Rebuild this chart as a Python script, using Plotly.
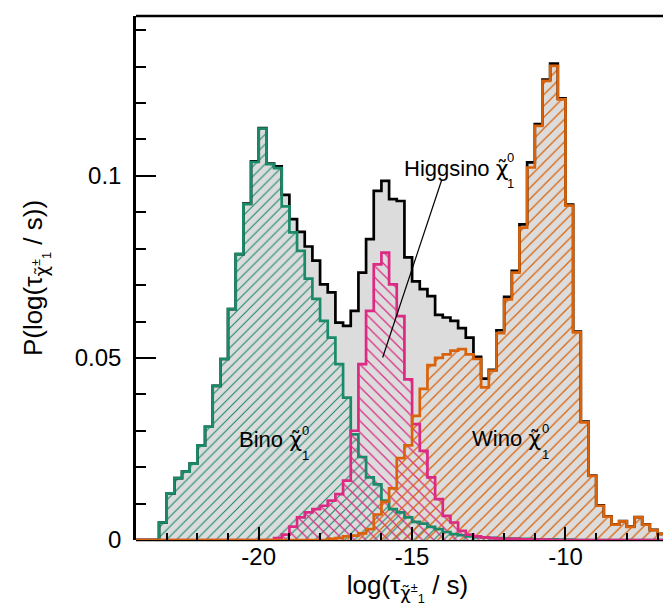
import plotly.graph_objects as go

# ---------------- data (bin left edges: -24, -23.75, ..., -6.5; width 0.25) ----------------
BIN_START = -24.0
BIN_WIDTH = 0.25

total = [0, 0, 0, 0.0048, 0.0128, 0.0170, 0.0188, 0.0210, 0.0259, 0.0311,
         0.0423, 0.0497, 0.0634, 0.0785, 0.0924, 0.1040, 0.1131, 0.1034, 0.1026, 0.0948,
         0.0881, 0.0846, 0.0806, 0.0767, 0.0702, 0.0680, 0.0597, 0.0588, 0.0629, 0.0734,
         0.0826, 0.0959, 0.0986, 0.0936, 0.0931, 0.0776, 0.0710, 0.0689, 0.0670, 0.0618,
         0.0611, 0.0602, 0.0582, 0.0556, 0.0503, 0.0443, 0.0467, 0.0576, 0.0668, 0.0739,
         0.0867, 0.1037, 0.1142, 0.1264, 0.1308, 0.1213, 0.0921, 0.0572, 0.0325, 0.0177,
         0.0095, 0.0065, 0.0043, 0.0052, 0.0037, 0.0063, 0.0043, 0.0028, 0.0017, 0.0011,
         0.0008]

bino = [0, 0, 0, 0.0048, 0.0128, 0.0170, 0.0188, 0.0210, 0.0259, 0.0311,
        0.0423, 0.0497, 0.0634, 0.0785, 0.0922, 0.1038, 0.1130, 0.1032, 0.1021, 0.0916,
        0.0845, 0.0794, 0.0718, 0.0662, 0.0602, 0.0556, 0.0483, 0.0391, 0.0290, 0.0228,
        0.0172, 0.0153, 0.0108, 0.0085, 0.0076, 0.0062, 0.0050, 0.0045, 0.0036, 0.0030,
        0.0022, 0.0016, 0.0013, 0.0010, 0.0008, 0.0007, 0.0006, 0.0005, 0.0004, 0.0004,
        0.0003, 0.0003, 0.0002, 0.0002, 0.0002, 0.0001, 0.0001, 0, 0, 0,
        0, 0, 0, 0, 0, 0, 0, 0, 0, 0,
        0]

higgsino = [0, 0, 0, 0, 0, 0, 0, 0, 0, 0,
            0, 0, 0, 0, 0, 0, 0, 0, 0.0005, 0.0015,
            0.0037, 0.0062, 0.0076, 0.0085, 0.0094, 0.0108, 0.0126, 0.0163, 0.0300, 0.0483,
            0.0629, 0.0757, 0.0789, 0.0702, 0.0615, 0.0441, 0.0318, 0.0245, 0.0172, 0.0112,
            0.0066, 0.0048, 0.0025, 0.0015, 0.0010, 0.0007, 0.0005, 0.0004, 0.0003, 0.0003,
            0.0002, 0.0002, 0.0001, 0.0001, 0, 0, 0, 0, 0, 0,
            0, 0, 0, 0, 0, 0, 0, 0, 0, 0,
            0]

wino = [0, 0, 0, 0, 0, 0, 0, 0, 0, 0,
        0, 0, 0, 0, 0, 0, 0, 0, 0, 0,
        0, 0, 0, 0, 0, 0.0003, 0.0005, 0.0010, 0.0012, 0.0018,
        0.0030, 0.0070, 0.0105, 0.0142, 0.0225, 0.0260, 0.0341, 0.0415, 0.0480, 0.0500,
        0.0510, 0.0520, 0.0524, 0.0510, 0.0497, 0.0419, 0.0465, 0.0568, 0.0661, 0.0734,
        0.0858, 0.1023, 0.1137, 0.1261, 0.1302, 0.1210, 0.0918, 0.0570, 0.0323, 0.0176,
        0.0094, 0.0064, 0.0042, 0.0051, 0.0036, 0.0062, 0.0042, 0.0027, 0.0016, 0.0010,
        0.0007]

x_tickvals = [-20, -15, -10]
x_ticktext = ["-20", "-15", "-10"]
y_tickvals = [0, 0.05, 0.1]
y_ticktext = ["0", "0.05", "0.1"]

# ---------------- styling ----------------
GRAY = "#dcdcdc"
GREEN = "#1b8a6b"
PINK = "#dc2a84"
ORANGE = "#d9630a"
FONT = "Liberation Sans, Arial, Helvetica, sans-serif"
CHI = "<span style='font-family:DejaVu Sans'>χ̃</span>"

n = len(total)
edges = [BIN_START + BIN_WIDTH * i for i in range(n + 1)]


def step_y(vals):
    return list(vals) + [vals[-1]]


fig = go.Figure()

# gray total area
fig.add_trace(go.Scatter(x=edges, y=step_y(total), mode="lines",
                         line=dict(shape="hv", width=0, color=GRAY),
                         fill="tozeroy", fillcolor=GRAY, hoverinfo="skip"))

# hatched component areas
for vals, col, shp, size in [(bino, GREEN, "/", 7), (higgsino, PINK, "\\", 8), (wino, ORANGE, "/", 8)]:
    fig.add_trace(go.Scatter(x=edges, y=step_y(vals), mode="lines",
                             line=dict(shape="hv", width=0, color=col),
                             fill="tozeroy", fillcolor="rgba(0,0,0,0)",
                             fillpattern=dict(shape=shp, fgcolor=col, bgcolor="rgba(0,0,0,0)",
                                              size=size, solidity=0.16, fgopacity=1),
                             hoverinfo="skip"))

# step outlines
for vals, col in [(total, "black"), (bino, GREEN), (higgsino, PINK), (wino, ORANGE)]:
    fig.add_trace(go.Scatter(x=edges, y=step_y(vals), mode="lines",
                             line=dict(shape="hv", width=2.7, color=col), hoverinfo="skip"))

chi_sub = CHI + "<sup>±</sup><sub>1</sub>"
fig.update_layout(
    width=671, height=608,
    margin=dict(l=128, r=0, t=8, b=76),
    paper_bgcolor="white", plot_bgcolor="white",
    showlegend=False,
    font=dict(family=FONT, size=22, color="black"),
)

fig.update_xaxes(
    range=[-24, -6.3], showline=False, showgrid=False, zeroline=False,
    ticks="inside", ticklen=13, tickwidth=2, tickcolor="black",
    tickmode="array", tickvals=x_tickvals, ticktext=x_ticktext,
    tickfont=dict(size=24),
    minor=dict(ticks="inside", ticklen=7, tickwidth=2, tickcolor="black",
               tickmode="linear", tick0=0, dtick=1),
    title=dict(text="log(τ<sub>" + chi_sub + "</sub> / s)", standoff=3, font=dict(size=26)),
)
fig.update_yaxes(
    range=[0, 0.1439], showline=True, linewidth=2.5, linecolor="black",
    showgrid=False, zeroline=False,
    ticks="inside", ticklen=20, tickwidth=2, tickcolor="black",
    tickmode="array", tickvals=y_tickvals, ticktext=y_ticktext,
    tickfont=dict(size=24), ticklabelstandoff=7,
    minor=dict(ticks="inside", ticklen=10, tickwidth=2, tickcolor="black",
               tickmode="linear", tick0=0, dtick=0.01),
    title=dict(text="P(log(τ<sub>" + chi_sub + "</sub> / s))", standoff=25, font=dict(size=26)),
)

# frame lines: bottom below traces, top above
fig.add_shape(type="line", xref="paper", yref="paper", x0=0, x1=1, y0=0, y1=0,
              line=dict(color="black", width=2.5), layer="below")
fig.add_shape(type="line", xref="paper", yref="paper", x0=0, x1=1, y0=1, y1=1,
              line=dict(color="black", width=2.5), layer="above")


# labels: name + chi-tilde, with stacked superscript 0 and subscript 1
def label(x, y, name, sx, sy_up, sy_dn):
    fig.add_annotation(x=x, y=y, xref="x", yref="y", text=name + " " + CHI, showarrow=False,
                       xanchor="left", yanchor="middle", font=dict(size=22))
    fig.add_annotation(x=sx, y=sy_up, xref="x", yref="y", text="0", showarrow=False,
                       xanchor="center", yanchor="middle", font=dict(size=13))
    fig.add_annotation(x=sx, y=sy_dn, xref="x", yref="y", text="1", showarrow=False,
                       xanchor="center", yanchor="middle", font=dict(size=13))


label(-20.70, 0.0275, "Bino", -18.47, 0.0302, 0.0232)
label(-13.12, 0.0278, "Wino", -10.66, 0.0306, 0.0234)
label(-15.34, 0.1019, "Higgsino", -11.78, 0.1050, 0.0980)

fig.add_shape(type="line", xref="x", yref="y", x0=-14.03, y0=0.0990, x1=-15.96, y1=0.0501,
              line=dict(color="black", width=1.2))

fig.write_html("out.html")
